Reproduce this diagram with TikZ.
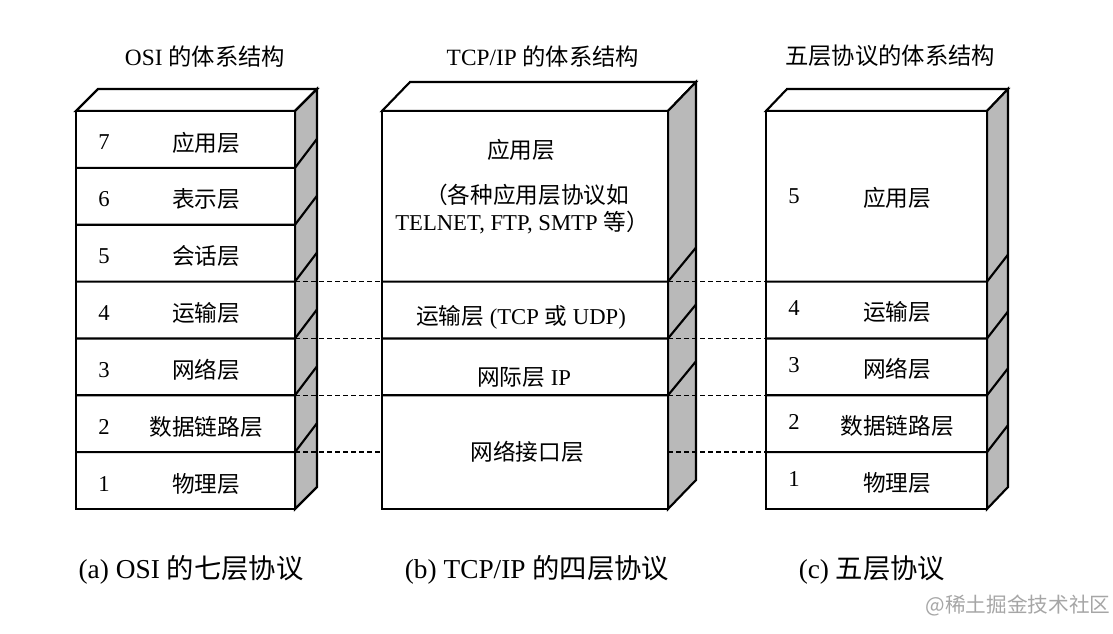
\documentclass[tikz,border=0pt]{standalone}
\usepackage{fontspec}
\setmainfont{Liberation Serif}
\newfontfamily\cjk{Noto Sans CJK SC}
\usetikzlibrary{calc}
\tikzset{
    box line/.style={line width=1.6pt, line join=miter},
    front face/.style={box line, fill=white},
    side face/.style={box line, fill=gray!55},
    level line/.style={line width=1.2pt, dash pattern=on 3.75pt off 2.25pt},
    layer text/.style={font=\fontsize{17}{20}\selectfont, inner sep=1pt},
    title text/.style={font=\fontsize{17.5}{21}\selectfont, inner sep=1pt},
    caption text/.style={font=\fontsize{20.5}{24}\selectfont, inner sep=1pt},
    mark text/.style={font=\cjk\fontsize{15.5}{18}\selectfont, text=gray!70, inner sep=1pt}
}
% stack: name, left, right, top, bottom, depth x, depth y
\newcommand{\Stack}[7]{%
    \coordinate(#1-nw)at(#2,#4);
    \coordinate(#1-ne)at(#3,#4);
    \coordinate(#1-se)at(#3,#5);
    \coordinate(#1-sw)at(#2,#5);
    \draw[front face]($(#1-nw)+(#6,-#7)$)--(#1-nw)--(#1-ne)--($(#1-ne)+(#6,-#7)$)--cycle;
    \draw[side face](#1-ne)--++(#6,-#7)--($(#1-se)+(#6,-#7)$)--(#1-se)--cycle;
    \draw[front face](#1-nw)rectangle(#1-se);
}

\begin{document}
\begin{tikzpicture}[x=0.75pt,y=-0.75pt]
    \useasboundingbox(0,0)rectangle(1113,634);

    \Stack{osi}{76}{295}{111}{509}{22}{22}
    \Stack{tcp}{382}{668}{111}{509}{28}{29}
    \Stack{five}{766}{987}{111}{509}{21}{22}

    % layer boundaries, with their slant on the side face
    \foreach \i in {1,...,6}{
        \coordinate(osi\i)at(295,{111+\i*56.86});
        \draw[box line](osi\i-|osi-nw)--(osi\i)--++(22,-29);
    }
    \foreach \i in {3,...,5}{
        \coordinate(tcp\i)at(668,{111+\i*56.86});
        \draw[box line](tcp\i-|tcp-nw)--(tcp\i)--++(28,-34);
    }
    \foreach \i in {3,...,6}{
        \coordinate(five\i)at(766,{111+\i*56.86});
        \draw[box line](five\i)--(five\i-|five-ne)--++(21,-27);
    }

    % dashed level lines
    \foreach \i in {3,...,6}{
        \draw[level line](osi\i)--(osi\i-|tcp-nw);
        \draw[level line](five\i-|tcp-ne)--(five\i);
    }

    % OSI layers
    \foreach \n/\t [count=\i] in {7/应用层,6/表示层,5/会话层,4/运输层,3/网络层,2/数据链路层,1/物理层}{
        \node[layer text](osi num\n)at(104,{111+(\i-.5)*56.86+3}){\n};
        \node[layer text](osi layer\n)at(206,{111+(\i-.5)*56.86+3}){\cjk \t};
    }

    % TCP/IP layers
    \node[layer text](tcp app)at(521,150){\cjk 应用层};
    \node[layer text](tcp app list)at(527,195){\cjk （各种应用层协议如};
    \node[layer text](tcp app names)at(522,223){TELNET, FTP, SMTP {\cjk 等）}};
    \node[layer text](tcp trans)at(521,317){{\cjk 运输层} (TCP {\cjk 或} UDP)};
    \node[layer text](tcp net)at(524,377){{\cjk 网际层} IP};
    \node[layer text](tcp link)at(527,452){\cjk 网络接口层};

    % five layers
    \node[layer text](five num5)at(794,196){5};
    \node[layer text](five layer5)at(897,198){\cjk 应用层};
    \foreach \n/\t [count=\i from 4] in {4/运输层,3/网络层,2/数据链路层,1/物理层}{
        \node[layer text](five num\n)at(794,{111+(\i-.5)*56.86-2}){\n};
        \node[layer text](five layer\n)at(897,{111+(\i-.5)*56.86+2}){\cjk \t};
    }

    % titles and captions
    \node[title text](osi title)at(205,57){OSI {\cjk 的体系结构}};
    \node[title text](tcp title)at(543,57){TCP/IP {\cjk 的体系结构}};
    \node[title text](five title)at(890,56){\cjk 五层协议的体系结构};

    \node[caption text](osi caption)at(191,570){(a) OSI {\cjk 的七层协议}};
    \node[caption text](tcp caption)at(537,570){(b) TCP/IP {\cjk 的四层协议}};
    \node[caption text](five caption)at(872,570){(c) {\cjk 五层协议}};

    \node[mark text](mark)at(1018,606){@稀土掘金技术社区};
\end{tikzpicture}
\end{document}
